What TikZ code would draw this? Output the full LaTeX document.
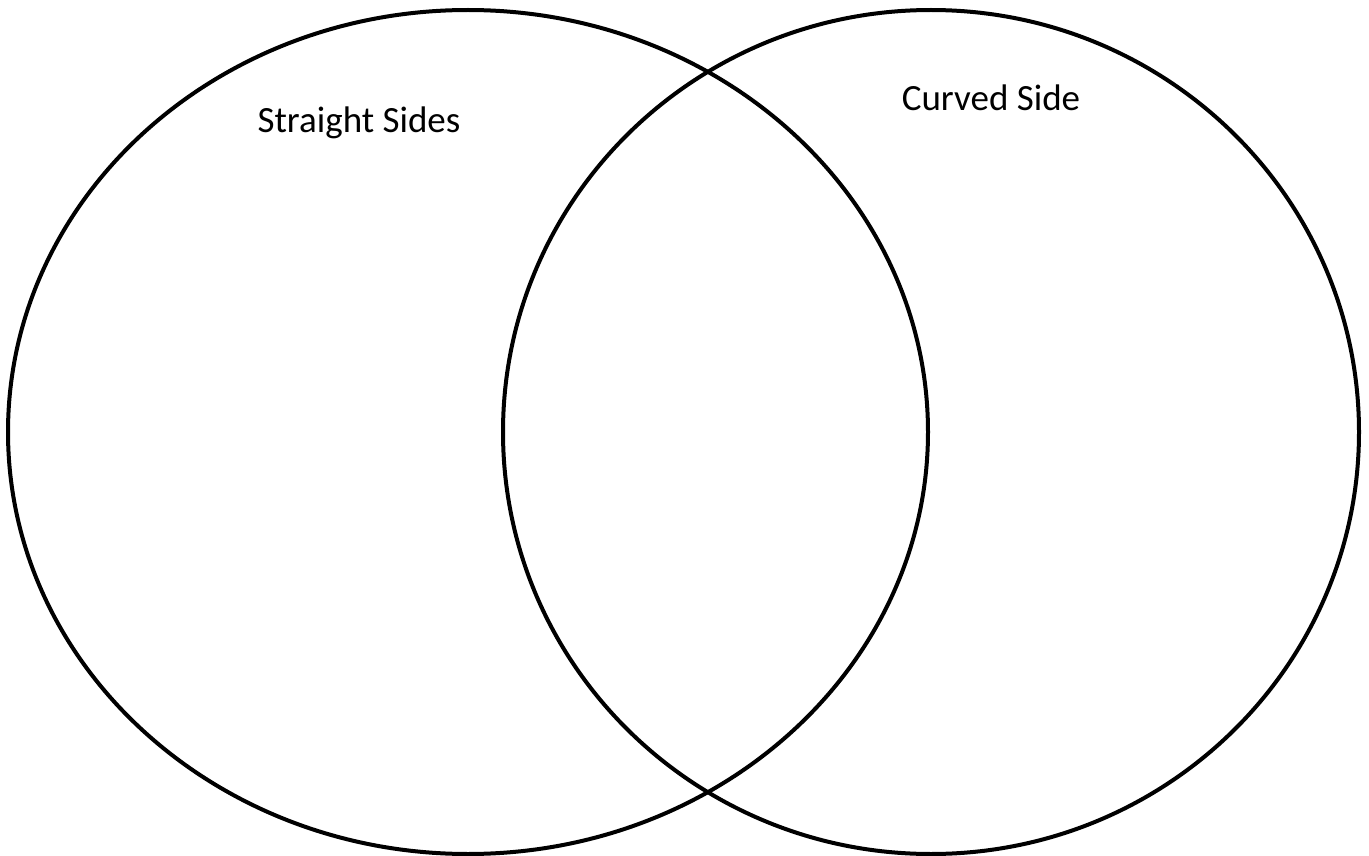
\documentclass[tikz,border=0pt]{standalone}
\usepackage{fontspec}
\setmainfont{Carlito}
\usetikzlibrary{positioning}

\begin{document}
\begin{tikzpicture}[x=1pt, y=-1pt,
  ring/.style={draw, line width=4pt},
  setlabel/.style={font=\fontsize{37}{44}\selectfont, inner sep=0pt}]
\useasboundingbox (0,0) rectangle (1369,856);
% the two sets
\draw[ring] (468,432) ellipse [x radius=460, y radius=422];
\draw[ring] (931,432) ellipse [x radius=428, y radius=422];
% labels
\node[setlabel] (straight) at (359,123) {Straight Sides};
\node[setlabel] (curved) at (991,98) {Curved Side};
\end{tikzpicture}
\end{document}
